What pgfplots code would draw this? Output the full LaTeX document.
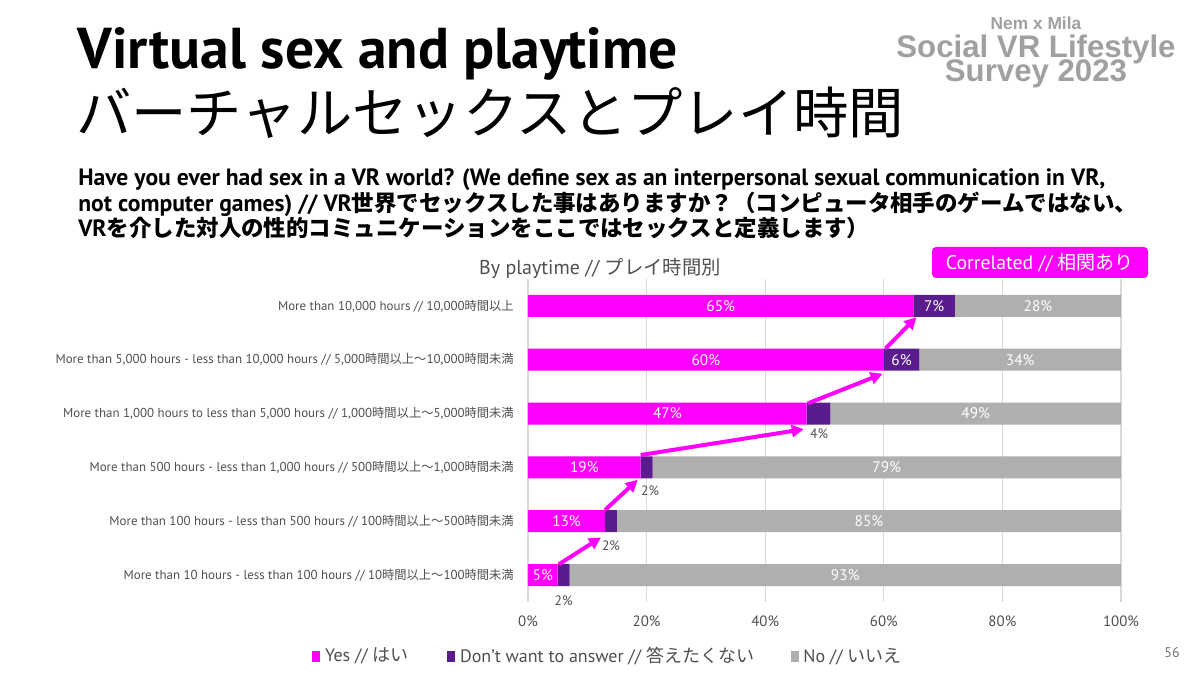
\documentclass[border=0pt]{standalone}
\usepackage{fontspec}
\usepackage{pgfplots}
\pgfplotsset{compat=1.18}
\usetikzlibrary{arrows.meta}
\setmainfont{PT Sans}
\newfontfamily\jp{Noto Sans CJK JP}
\newfontfamily\logofont{Liberation Sans}
\newcommand{\J}[1]{{\jp\fsz{9.2}#1}}
\definecolor{yescol}{HTML}{FF00FF}
\definecolor{dwacol}{HTML}{5A1C8C}
\definecolor{nocol}{HTML}{AFAFAF}
\definecolor{gridc}{HTML}{D9D9D9}
\definecolor{lab}{HTML}{505050}
\definecolor{logo}{HTML}{A0A0A0}
\newcommand{\fsz}[1]{\fontsize{#1pt}{#1pt}\selectfont}
\tikzset{
  barlab/.style={font=\fsz{11.5}, text=white, inner sep=0pt},
  smlab/.style={font=\fsz{10.2}, text=lab, inner sep=0pt},
  arr/.style={draw=yescol, line width=3pt, -{Triangle[length=9pt,width=9pt]}},
}
\begin{document}
\begin{tikzpicture}
\path[use as bounding box, fill=white] (0,0) rectangle (900pt,506.25pt);
% title
\node[anchor=base west, inner sep=0, font=\bfseries\fsz{43.2}] at (58pt,454.5pt) {Virtual sex and playtime};
\node[anchor=base west, inner sep=0, font=\jp\fsz{41.5}] at (57pt,405.75pt) {バーチャルセックスとプレイ時間};
% logo
\node[anchor=north, inner sep=0, text=logo, align=center,
  font={\logofont\bfseries\fontsize{23.4pt}{18pt}\selectfont\lineskiplimit=-100pt\lineskip=0pt}]
  at (777pt,493.5pt) {{\fontsize{13pt}{18pt}\selectfont Nem x Mila}\\[3pt]Social VR Lifestyle\\Survey 2023};
% subtitle
\node[anchor=base west, inner sep=0, font=\bfseries\fsz{17.7}] at (58.5pt,366.75pt) {Have you ever had sex in a VR world? (We define sex as an interpersonal sexual communication in VR,};
\node[anchor=base west, inner sep=0, font=\bfseries\fsz{17.7}] at (58.5pt,347.25pt) {not computer games) // VR{\jp\fsz{16.85}世界でセックスした事はありますか？（コンピュータ相手のゲームではない、}};
\node[anchor=base west, inner sep=0, font=\bfseries\fsz{17.7}] at (58.5pt,328.5pt) {VR{\jp\fsz{16.85}を介した対人の性的コミュニケーションをここではセックスと定義します）}};
% chart title and tag
\node[font=\fsz{15}, text=lab, inner sep=0] at (450pt,305.25pt) {By playtime // {\jp\fsz{14.5}プレイ時間別}};
\node[fill=yescol, rounded corners=3pt, text=white, font=\fsz{14.8}, minimum width=162pt, minimum height=23.25pt, inner sep=0] at (780pt,309.375pt) {Correlated // {\jp\fsz{14.3}相関あり}};
% page number
\node[font=\fsz{10.5}, text=lab!80, inner sep=0] at (879pt,16.5pt) {56};
\begin{axis}[
  at={(396pt,54.75pt)}, anchor=south west, scale only axis,
  width=444.75pt, height=242.25pt,
  xbar stacked, bar width=16.5pt,
  xmin=0, xmax=100, ymin=-0.5, ymax=5.5,
  xtick={0,20,40,60,80,100},
  xticklabels={0\%,20\%,40\%,60\%,80\%,100\%},
  ytick={0,1,2,3,4,5},
  yticklabels={
    {More than 10 hours - less than 100 hours // 10\J{時間以上～}100\J{時間未満}},
    {More than 100 hours - less than 500 hours // 100\J{時間以上～}500\J{時間未満}},
    {More than 500 hours - less than 1,000 hours // 500\J{時間以上～}1,000\J{時間未満}},
    {More than 1,000 hours to less than 5,000 hours // 1,000\J{時間以上～}5,000\J{時間未満}},
    {More than 5,000 hours - less than 10,000 hours // 5,000\J{時間以上～}10,000\J{時間未満}},
    {More than 10,000 hours // 10,000\J{時間以上}}},
  xmajorgrids, major grid style={draw=gridc, line width=0.8pt},
  axis line style={draw=none}, major tick length=0pt,
  yticklabel style={font=\fsz{9.7}, text=lab, anchor=east, inner sep=0pt, xshift=-10.5pt},
  xticklabel style={font=\fsz{11.2}, text=lab, anchor=north, inner sep=0pt, yshift=-10pt},
  clip=false,
  legend columns=3,
  legend style={at={(axis description cs:-0.364,-0.167)}, anchor=west, draw=none, fill=none,
    font=\fsz{13.5}, text=lab, inner sep=0pt,
    /tikz/every even column/.append style={column sep=0pt}},
  legend image code/.code={\fill[#1] (0pt,-4.5pt) rectangle (6pt,4pt);},
]
\addplot[fill=yescol, draw=none] coordinates {(5,0) (13,1) (19,2) (47,3) (60,4) (65,5)};
\addlegendentry{\makebox[91.25pt][l]{\hspace*{1.5pt}Yes // {\jp はい}}}
\addplot[fill=dwacol, draw=none] coordinates {(2,0) (2,1) (2,2) (4,3) (6,4) (7,5)};
\addlegendentry{\makebox[247.5pt][l]{\hspace*{1.5pt}Don't want to answer // {\jp 答えたくない}}}
\addplot[fill=nocol, draw=none] coordinates {(93,0) (85,1) (79,2) (49,3) (34,4) (28,5)};
\addlegendentry{\hspace*{1.5pt}No // {\jp いいえ}}
% label anchors
\coordinate (y0) at (axis cs:2.5,0);
\coordinate (y1) at (axis cs:6.5,1);
\coordinate (y2) at (axis cs:9.5,2);
\coordinate (y3) at (axis cs:23.5,3);
\coordinate (y4) at (axis cs:30,4);
\coordinate (y5) at (axis cs:32.5,5);
\coordinate (n0) at (axis cs:53.5,0);
\coordinate (n1) at (axis cs:57.5,1);
\coordinate (n2) at (axis cs:60.5,2);
\coordinate (n3) at (axis cs:75.5,3);
\coordinate (n4) at (axis cs:83,4);
\coordinate (n5) at (axis cs:86,5);
\coordinate (d4) at (axis cs:63,4);
\coordinate (d5) at (axis cs:68.5,5);
\coordinate (s0) at (axis cs:6,-0.48);
\coordinate (s1) at (axis cs:14,0.545);
\coordinate (s2) at (axis cs:20.6,1.567);
\coordinate (s3) at (axis cs:49.1,2.63);
\coordinate (a1) at (axis cs:5.2,0.20);
\coordinate (b1) at (axis cs:12.3,0.70);
\coordinate (a2) at (axis cs:13.0,1.21);
\coordinate (b2) at (axis cs:18.5,1.77);
\coordinate (a3) at (axis cs:19.0,2.23);
\coordinate (b3) at (axis cs:46.5,2.71);
\coordinate (a4) at (axis cs:47.2,3.19);
\coordinate (b4) at (axis cs:59.8,3.74);
\coordinate (a5) at (axis cs:60.3,4.21);
\coordinate (b5) at (axis cs:65.5,4.79);
\end{axis}
\node[barlab] at (y0) {5\%};
\node[barlab] at (y1) {13\%};
\node[barlab] at (y2) {19\%};
\node[barlab] at (y3) {47\%};
\node[barlab] at (y4) {60\%};
\node[barlab] at (y5) {65\%};
\node[barlab] at (n0) {93\%};
\node[barlab] at (n1) {85\%};
\node[barlab] at (n2) {79\%};
\node[barlab] at (n3) {49\%};
\node[barlab] at (n4) {34\%};
\node[barlab] at (n5) {28\%};
\node[barlab] at (d4) {6\%};
\node[barlab] at (d5) {7\%};
\node[smlab] at (s0) {2\%};
\node[smlab] at (s1) {2\%};
\node[smlab] at (s2) {2\%};
\node[smlab] at (s3) {4\%};
\draw[arr] (a1) -- (b1);
\draw[arr] (a2) -- (b2);
\draw[arr] (a3) -- (b3);
\draw[arr] (a4) -- (b4);
\draw[arr] (a5) -- (b5);
\end{tikzpicture}
\end{document}
